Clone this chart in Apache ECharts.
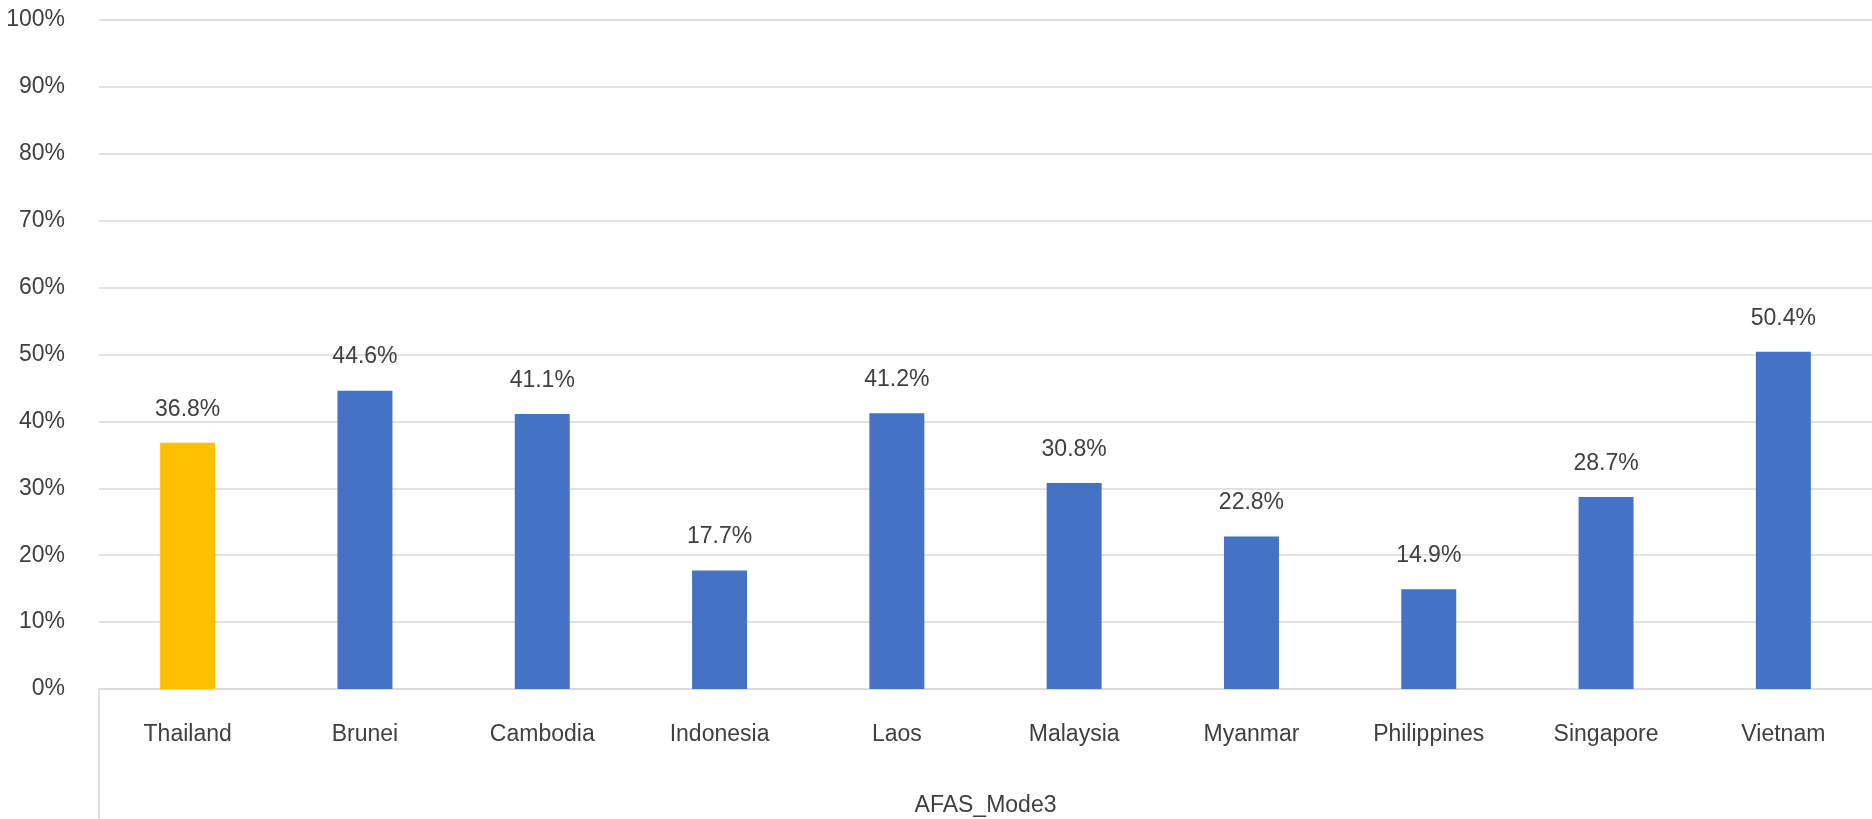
<!DOCTYPE html>
<html>
<head>
<meta charset="utf-8">
<script src="https://cdn.jsdelivr.net/npm/echarts@6/dist/echarts.min.js"></script>
<style>
  html, body { margin: 0; padding: 0; width: 100%; height: 100%; overflow: hidden; background: #fff; }
  #chart { width: 100%; height: 100%; }
</style>
</head>
<body>
<div id="chart"></div>
<script>
// data
var countries = ['Thailand', 'Brunei', 'Cambodia', 'Indonesia', 'Laos', 'Malaysia', 'Myanmar', 'Philippines', 'Singapore', 'Vietnam'];
var shares = [36.8, 44.6, 41.1, 17.7, 41.2, 30.8, 22.8, 14.9, 28.7, 50.4];
var groupName = 'AFAS_Mode3';
var yTicks = [0, 10, 20, 30, 40, 50, 60, 70, 80, 90, 100];

var textColor = '#404040';
var font = 'Liberation Sans, Arial, sans-serif';
var gridLeft = 99, gridBottom = 130;

var barData = [];
for (var i = 0; i < shares.length; i++) {
    barData.push({
        value: shares[i],
        itemStyle: { color: i === 0 ? '#FFC000' : '#4472C4' }
    });
}

var myChart = echarts.init(document.getElementById('chart'));
var h = myChart.getHeight();
var option = {
    animation: false,
    grid: {
        left: gridLeft, right: 0, top: 20, bottom: gridBottom,
        containLabel: false,
        outerBoundsMode: 'none'
    },
    // left border of the category group box under the axis
    graphic: [{
        type: 'line',
        shape: { x1: gridLeft, y1: h - gridBottom, x2: gridLeft, y2: h },
        style: { stroke: '#D9D9D9', lineWidth: 1.5 }
    }],
    xAxis: {
        type: 'category',
        data: countries,
        axisLine: { show: true, lineStyle: { color: '#D9D9D9', width: 1.5 } },
        axisTick: { show: false },
        axisLabel: { color: textColor, fontSize: 23, fontFamily: font, margin: 34 },
        name: groupName,
        nameLocation: 'middle',
        nameGap: 105,
        nameTextStyle: { color: textColor, fontSize: 23, fontFamily: font }
    },
    yAxis: {
        type: 'value',
        min: yTicks[0],
        max: yTicks[yTicks.length - 1],
        interval: 10,
        axisLine: { show: false },
        axisTick: { show: false },
        splitLine: { lineStyle: { color: '#D9D9D9', width: 1.5 } },
        axisLabel: {
            color: textColor, fontSize: 23, fontFamily: font, margin: 34,
            formatter: function (v) { return v + '%'; }
        }
    },
    series: [{
        type: 'bar',
        data: barData,
        barWidth: '31%',
        label: {
            show: true,
            position: 'top',
            distance: 22,
            color: textColor,
            fontSize: 23,
            fontFamily: font,
            formatter: function (p) { return p.value.toFixed(1) + '%'; }
        }
    }]
};
myChart.setOption(option);
</script>
</body>
</html>
